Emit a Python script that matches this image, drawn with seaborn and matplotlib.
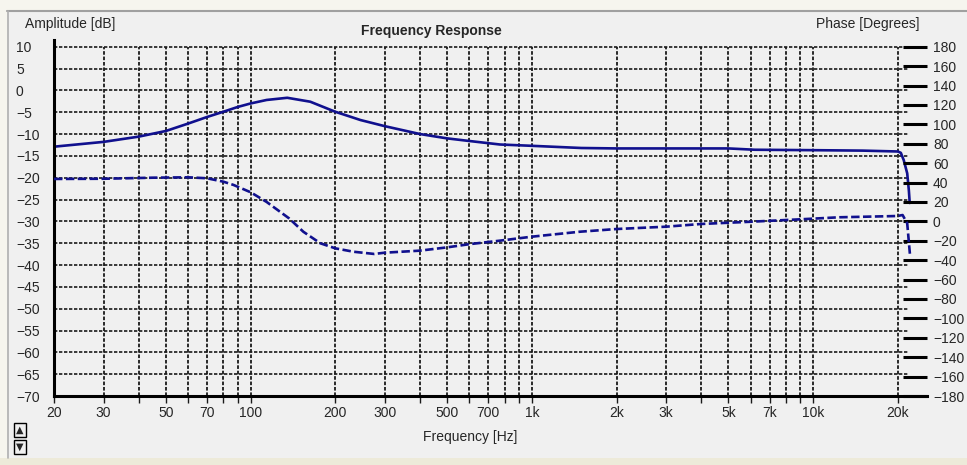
import pandas as pd
import seaborn as sns
import matplotlib.pyplot as plt
from matplotlib.ticker import FixedLocator, FixedFormatter, NullLocator
from matplotlib.patches import Rectangle
from matplotlib.lines import Line2D

# Amplitude curve (solid, left axis)
amp_freq = [20, 30, 40, 50, 60, 70, 80, 90, 100, 114, 135, 163, 200, 246,
            300, 400, 500, 600, 770, 1000, 1500, 2000, 5000, 6200, 10000, 15000,
            20000, 20500, 21000, 21600, 21900, 22050]
amp_db = [-12.9, -11.8, -10.6, -9.3, -7.6, -6.1, -4.9, -3.8, -3.0, -2.2,
          -1.7, -2.6, -4.9, -6.8, -8.2, -10.0, -11.0, -11.6, -12.4, -12.7, -13.2,
          -13.3, -13.3, -13.6, -13.7, -13.8, -14.0, -14.3, -16.0, -19.0, -23.0, -25.8]

# Phase curve (dashed, right axis)
phase_freq = [20, 30, 45, 60, 70, 80, 87, 100, 114, 137, 154, 177, 200, 232, 275,
              300, 400, 500, 600, 770, 1000, 1480, 2000, 3000, 4000, 6000, 9000,
              12400, 19900, 20800, 21600, 22100]
phase_deg = [43.7, 43.9, 45.0, 45.4, 44.4, 40.9, 37.5, 30.0, 20.0, 3.1, -10.7,
             -22.6, -27.8, -31.3, -33.6, -32.3, -30.2, -26.8, -23.5, -19.9, -15.8,
             -10.7, -7.9, -5.5, -2.7, -0.4, 2.1, 4.2, 5.5, 6.5, -2.0, -34.7]

freq_ticks = [20, 30, 40, 50, 60, 70, 80, 90, 100, 200, 300, 400, 500, 600, 700,
              800, 900, 1000, 2000, 3000, 4000, 5000, 6000, 7000, 8000, 9000,
              10000, 20000]
freq_labels = ['20', '30', '', '50', '', '70', '', '', '100', '200', '300', '',
               '500', '', '700', '', '', '1k', '2k', '3k', '', '5k', '', '7k',
               '', '', '10k', '20k']
amp_ticks = list(range(-70, 11, 5))
phase_ticks = list(range(-180, 181, 20))

amp_df = pd.DataFrame({'freq': amp_freq, 'amp': amp_db})
phase_df = pd.DataFrame({'freq': phase_freq, 'phase': phase_deg})

sns.set_style('ticks')
plt.rcParams['font.family'] = ['Liberation Sans', 'DejaVu Sans']
plt.rcParams['font.size'] = 10

W, H = 967, 465
BG = '#F0F0F0'
LINE = '#10108E'
GRID = '#1A1A1A'


def fx(px):
    return px / W


def fy(py):
    return 1 - py / H


fig = plt.figure(figsize=(W / 100, H / 100), dpi=100, facecolor=BG)

# window frame bits
fig.patches.append(Rectangle((0, fy(10)), 1, 1 - fy(10), transform=fig.transFigure,
                             fc='#F6F5EE', ec='none', zorder=0))
fig.patches.append(Rectangle((0, 0), 1, fy(458), transform=fig.transFigure,
                             fc='#EDEAD9', ec='none', zorder=0))
fig.patches.append(Rectangle((0, fy(458)), fx(7), fy(10) - fy(458), transform=fig.transFigure,
                             fc='#F6F5EE', ec='none', zorder=0))
fig.add_artist(Line2D([fx(7), 1], [fy(11), fy(11)], color='#A0A0A0', lw=1.5))
fig.add_artist(Line2D([fx(8), fx(8)], [fy(11), fy(458)], color='#B0B0B0', lw=1.2))

ax = fig.add_axes([fx(54), fy(396), fx(927) - fx(54), fy(46.7) - fy(396)])
ax.set_facecolor(BG)
ax2 = ax.twinx()

sns.lineplot(data=amp_df, x='freq', y='amp', ax=ax, color=LINE, lw=1.9,
             estimator=None, sort=False)
sns.lineplot(data=phase_df, x='freq', y='phase', ax=ax2, color=LINE, lw=1.9,
             estimator=None, sort=False, linestyle=(0, (3.2, 1.3)))

ax.set_xscale('log')
ax.set_xlim(20, 25400)
ax.set_ylim(-70, 10)
ax2.set_ylim(-180, 180)

# x axis
ax.xaxis.set_major_locator(FixedLocator(freq_ticks))
ax.xaxis.set_major_formatter(FixedFormatter(freq_labels))
ax.xaxis.set_minor_locator(NullLocator())
ax.tick_params(axis='x', which='major', direction='out', length=5, width=1,
               color=GRID, pad=2, labelsize=10)
ax.grid(axis='x', which='major', color=GRID, lw=1.3, ls=(0, (2, 1)))

# left amplitude axis
ax.set_yticks(amp_ticks)
ax.tick_params(axis='y', length=0, pad=27.4, labelsize=10)
for lab in ax.get_yticklabels():
    lab.set_horizontalalignment('left')
ax.hlines(amp_ticks[1:], 20, 21800, colors=GRID, lw=1.2,
          linestyles=[(0, (2, 1))], clip_on=False, zorder=1)

# right phase axis
ax2.set_yticks(phase_ticks)
ax2.tick_params(axis='y', direction='in', length=17.3, width=2.2, color='black',
                pad=4.3, labelsize=10)

for side in ['top', 'right']:
    ax.spines[side].set_visible(False)
for side in ['left', 'bottom']:
    ax.spines[side].set_linewidth(2.2)
    ax.spines[side].set_color('black')
ax.spines['left'].set_bounds(-70, 11.6)
for side in ax2.spines:
    ax2.spines[side].set_visible(False)

ax.set_xlabel('')
ax.set_ylabel('')
ax2.set_ylabel('')

fig.text(fx(25), fy(24), 'Amplitude [dB]', ha='left', va='center', fontsize=10)
fig.text(fx(920), fy(24), 'Phase [Degrees]', ha='right', va='center', fontsize=10)
fig.text(fx(431), fy(31.5), 'Frequency Response', ha='center', va='center',
         fontsize=10, fontweight='bold')
fig.text(fx(470), fy(437), 'Frequency [Hz]', ha='center', va='center', fontsize=10)

# little scroll buttons in the corner
for sym, py in [('\u25b2', 430), ('\u25bc', 447)]:
    fig.text(fx(20), fy(py), sym, ha='center', va='center', fontsize=7,
             family='DejaVu Sans',
             bbox=dict(boxstyle='square,pad=0.2', fc=BG, ec='black', lw=1))

plt.savefig('out.png', dpi=100, facecolor=fig.get_facecolor())
plt.close()
